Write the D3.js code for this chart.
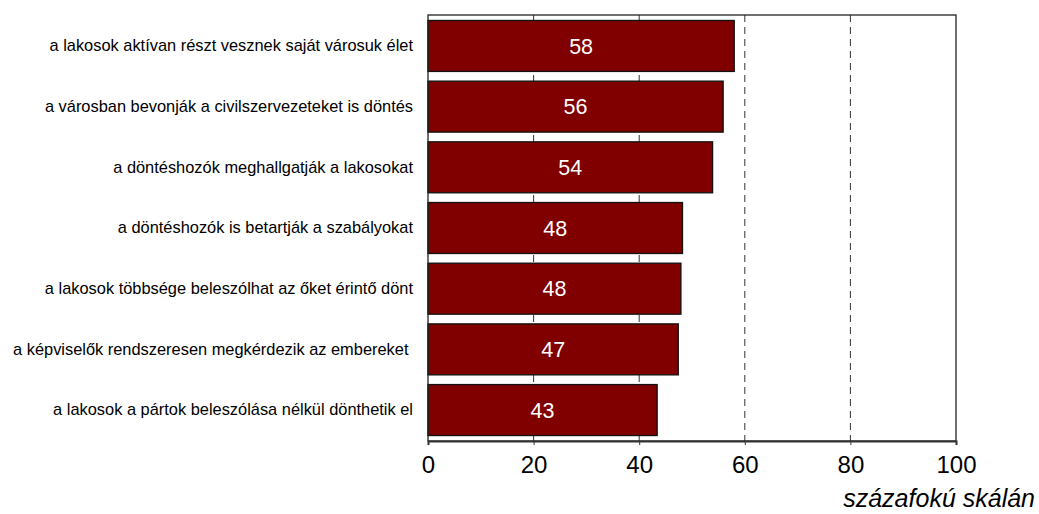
<!DOCTYPE html>
<html>
<head>
<meta charset="utf-8">
<script src="https://cdn.jsdelivr.net/npm/d3@7"></script>
<style>
  html, body { margin: 0; padding: 0; background: #fff; }
  svg { display: block; }
  text { font-family: "Liberation Sans", Arial, sans-serif; }
</style>
</head>
<body>
<svg id="chart" width="1039" height="514"></svg>
<script>
const categories = [
  "a lakosok aktívan részt vesznek saját városuk élet",
  "a városban bevonják a civilszervezeteket is döntés",
  "a döntéshozók meghallgatják a lakosokat",
  "a döntéshozók is betartják a szabályokat",
  "a lakosok többsége beleszólhat az őket érintő dönt",
  "a képviselők rendszeresen megkérdezik az embereket ",
  "a lakosok a pártok beleszólása nélkül dönthetik el"
];
const values = [58.0, 55.9, 53.9, 48.2, 47.9, 47.4, 43.4];
const xTicks = [0, 20, 40, 60, 80, 100];
const gridTicks = [20, 40, 60, 80];
const axisTitle = "százafokú skálán";

const svg = d3.select("#chart");
const mLeft = 428, mRight = 956, mTop = 15, mBottom = 441;

const x = d3.scaleLinear().domain([0, 100]).range([mLeft, mRight]);
const y = d3.scaleBand().domain(categories).range([mTop, mBottom])
  .paddingInner(0.16).paddingOuter(0.09);

// dashed gridlines
svg.append("g").selectAll("line").data(gridTicks).join("line")
  .attr("x1", d => x(d)).attr("x2", d => x(d))
  .attr("y1", mTop).attr("y2", mBottom)
  .attr("stroke", "#333").attr("stroke-width", 1)
  .attr("stroke-dasharray", "7,5");

// bars
svg.append("g").selectAll("rect").data(values).join("rect")
  .attr("x", x(0))
  .attr("y", (d, i) => y(categories[i]))
  .attr("width", d => x(d) - x(0))
  .attr("height", y.bandwidth())
  .attr("fill", "#800000")
  .attr("stroke", "#111").attr("stroke-width", 1.3);

// bar labels
const fmt = d3.format(".0f");
svg.append("g").selectAll("text").data(values).join("text")
  .attr("x", d => (x(0) + x(d)) / 2)
  .attr("y", (d, i) => y(categories[i]) + y.bandwidth() / 2)
  .attr("dy", "0.36em")
  .attr("text-anchor", "middle")
  .attr("fill", "#fff")
  .attr("font-size", 21.5)
  .text(d => fmt(d));

// frame
svg.append("rect")
  .attr("x", mLeft).attr("y", mTop)
  .attr("width", mRight - mLeft).attr("height", mBottom - mTop)
  .attr("fill", "none").attr("stroke", "#222").attr("stroke-width", 1.3);

// x axis
const xAxis = d3.axisBottom(x).tickValues(xTicks).tickSize(4).tickPadding(11);
const gx = svg.append("g").attr("transform", `translate(0,${mBottom})`).call(xAxis);
gx.select(".domain").attr("stroke", "#333").attr("stroke-width", 2);
gx.selectAll(".tick line").attr("stroke", "#333");
gx.selectAll(".tick text")
  .attr("font-size", 24)
  .attr("fill", "#000")
  .attr("font-family", "Liberation Sans, Arial, sans-serif");

// y axis labels
const yAxis = d3.axisLeft(y).tickSize(0).tickPadding(15);
const gy = svg.append("g").attr("transform", `translate(${mLeft},0)`).call(yAxis);
gy.select(".domain").remove();
gy.selectAll(".tick text")
  .attr("font-size", 16.4)
  .attr("fill", "#000")
  .style("white-space", "pre")
  .attr("font-family", "Liberation Sans, Arial, sans-serif");

// axis title
svg.append("text")
  .attr("x", 1035).attr("y", 507)
  .attr("text-anchor", "end")
  .attr("font-size", 25)
  .attr("font-style", "italic")
  .attr("fill", "#000")
  .text(axisTitle);
</script>
</body>
</html>
